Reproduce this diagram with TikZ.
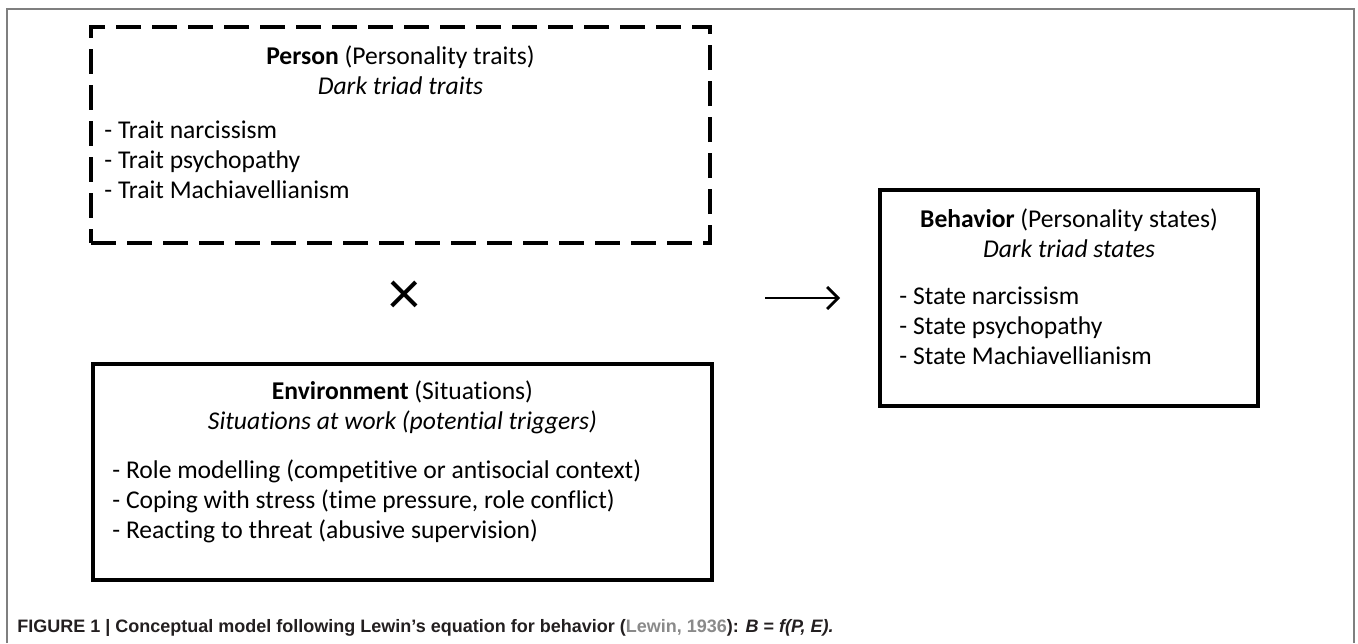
\documentclass[tikz,border=0pt]{standalone}
\usepackage{fontspec}
\setmainfont{Carlito}[Ligatures=CommonOff]
\newfontfamily\capfont{Liberation Sans}
\usetikzlibrary{arrows.meta,positioning}
\definecolor{framegray}{HTML}{7F7F7F}
\definecolor{capblack}{HTML}{231F20}
\definecolor{citegray}{HTML}{8A8A8A}

\begin{document}
\begin{tikzpicture}[x=0.5pt,y=-0.5pt]

		\tikzstyle{box}=[rectangle,draw=black,
			line width=2.4pt,
			minimum width=309.5pt,minimum height=108pt,
			inner sep=0mm]
		\tikzstyle{dashbox}=[box,line width=2pt,
			dash pattern=on 12.5pt off 5.5pt]
		\tikzstyle{heading}=[align=center,inner sep=0mm,
			font=\fontsize{12.8pt}{15pt}\selectfont]
		\tikzstyle{items}=[align=left,inner sep=0mm,anchor=west,
			font=\fontsize{12.8pt}{15pt}\selectfont]
		\tikzstyle{arrow}=[-{Straight Barb[length=5.5pt,width=11pt]},
			draw=black,line width=1.4pt]

		\useasboundingbox	(0,0) rectangle (1358,643);
		\draw[framegray,line width=1pt]	(7,643) |- (1354,9) -- (1354,643);

		% person
		\node[dashbox]	(person)	at (400.5,135)	{};
		\node[heading]	(person-h)	at (400.5,70)	{\textbf{Person} (Personality traits)\\ \textit{Dark triad traits}};
		\node[items]	(person-l)	at (104,160)	{- Trait narcissism\\ - Trait psychopathy\\ - Trait Machiavellianism};

		\node[inner sep=0mm,font=\fontsize{32pt}{32pt}\selectfont]	(times)	at (404,298)	{×};

		% environment
		\node[box]	(env)	at (402.5,472)	{};
		\node[heading]	(env-h)	at (402.5,407)	{\textbf{Environment} (Situations)\\ \textit{Situations at work (potential triggers)}};
		\node[items]	(env-l)	at (112,501)	{- Role modelling (competitive or antisocial context)\\ - Coping with stress (time pressure, role conflict)\\ - Reacting to threat (abusive supervision)};

		% behavior
		\node[box,minimum width=189pt]	(beh)	at (1069,298)	{};
		\node[heading]	(beh-h)	at (1069,233)	{\textbf{Behavior} (Personality states)\\ \textit{Dark triad states}};
		\node[items]	(beh-l)	at (899,326)	{- State narcissism\\ - State psychopathy\\ - State Machiavellianism};

		\coordinate	(arrow-s)	at (765,298);
		\coordinate	(arrow-e)	at (840,298);
		\draw[arrow]	(arrow-s)	--	(arrow-e);

		\node[anchor=base west,inner sep=0mm,text=capblack,
			font=\capfont\bfseries\fontsize{9pt}{11pt}\selectfont]	(caption)	at (17,632)
			{FIGURE 1 | Conceptual model following Lewin’s equation for behavior ({\color{citegray}Lewin, 1936}): \textit{B} = \textit{f(P, E).}};

	\end{tikzpicture}
\end{document}
